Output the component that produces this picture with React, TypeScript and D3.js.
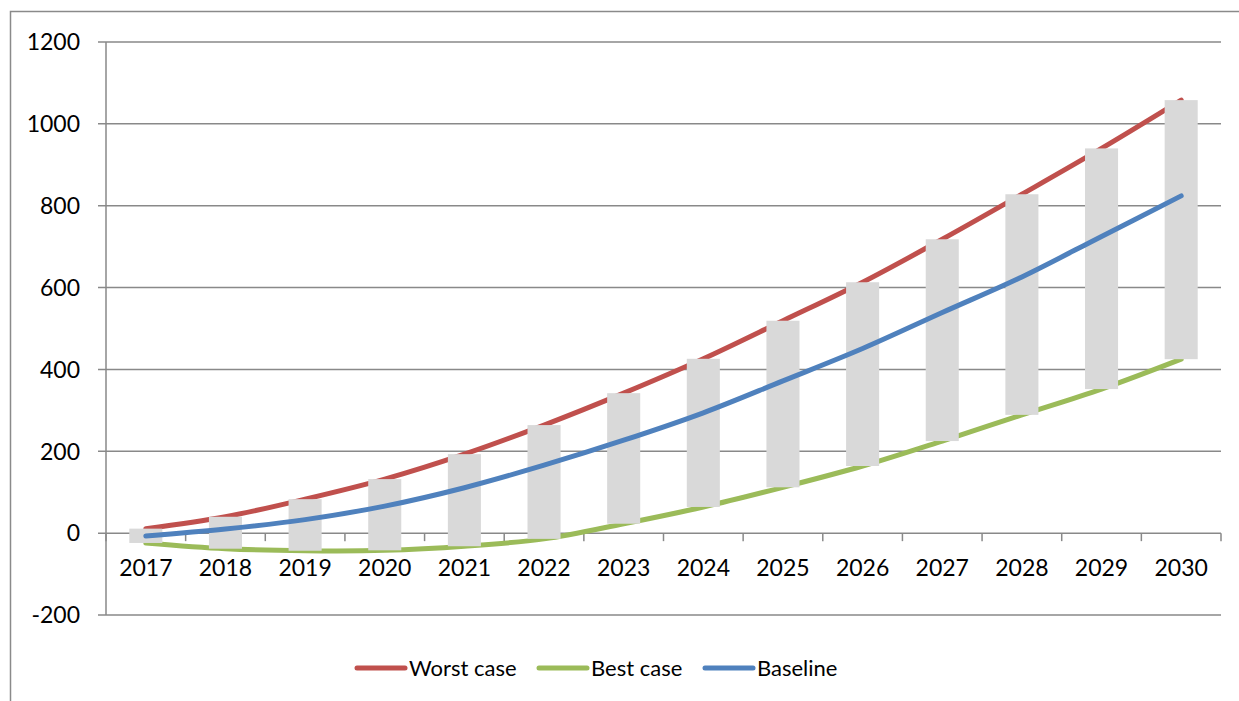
import React from "react";
import * as d3 from "d3";

const years = ["2017","2018","2019","2020","2021","2022","2023","2024","2025","2026","2027","2028","2029","2030"];
const worstCase = [11, 40, 83, 132, 193, 264, 342, 426, 519, 613, 718, 828, 940, 1058];
const bestCase = [-24, -38, -43, -42, -32, -14, 23, 64, 112, 164, 225, 289, 352, 425];
const baseline = [-7, 10, 33, 66, 111, 166, 227, 294, 372, 451, 539, 626, 725, 824];
const yTicks = [-200, 0, 200, 400, 600, 800, 1000, 1200];

const legendItems = [
  { label: "Worst case", color: "#C0504D", x: 357 },
  { label: "Best case", color: "#9BBB59", x: 539 },
  { label: "Baseline", color: "#4F81BD", x: 705 },
];

const W = 1239, H = 701;
const left = 106, right = 1221, top = 42, bottom = 615;
const FONT = "Lato, 'Open Sans', sans-serif";
const GRID = "#898989";

export default function App() {
  const x = d3.scalePoint<string>().domain(years).range([left, right]).padding(0.5);
  const step = x.step();
  const barW = step * 0.415;
  const y = d3.scaleLinear().domain([-200, 1200]).range([bottom, top]);
  const line = d3
    .line<number>()
    .x((_, i) => x(years[i]) as number)
    .y((d) => y(d))
    .curve(d3.curveCatmullRom.alpha(0.5));
  const y0 = y(0);

  return (
    <svg width={W} height={H} style={{ position: "absolute", left: 0, top: 0, display: "block" }}>
      <rect x={0} y={0} width={W} height={H} fill="#fff" />
      {/* outer chart border */}
      <path d={`M10.5,${H + 2} V11.5 H${W + 2}`} fill="none" stroke="#8a8a8a" strokeWidth={1.5} />
      {/* gridlines */}
      {yTicks.map((t) => (
        <line key={t} x1={98} x2={right} y1={y(t)} y2={y(t)} stroke={GRID} strokeWidth={1.5} />
      ))}
      {/* y axis */}
      <line x1={left} x2={left} y1={top} y2={bottom} stroke={GRID} strokeWidth={1.5} />
      {yTicks.map((t) => (
        <text key={t} x={80} y={y(t)} dy="0.36em" textAnchor="end" fontFamily={FONT} fontSize={23} fill="#000">
          {t}
        </text>
      ))}
      {/* x axis ticks at category boundaries */}
      {d3.range(years.length + 1).map((k) => (
        <line key={k} x1={left + k * step} x2={left + k * step} y1={y0} y2={y0 + 8} stroke={GRID} strokeWidth={1.5} />
      ))}
      {years.map((yr) => (
        <text key={yr} x={x(yr)} y={568} dy="0.36em" textAnchor="middle" fontFamily={FONT} fontSize={23} fill="#000">
          {yr}
        </text>
      ))}
      {/* red and green lines under bars */}
      <path d={line(worstCase) || ""} fill="none" stroke="#C0504D" strokeWidth={5} strokeLinecap="round" />
      <path d={line(bestCase) || ""} fill="none" stroke="#9BBB59" strokeWidth={5} strokeLinecap="round" />
      {/* floating range bars */}
      {years.map((yr, i) => {
        const t = y(worstCase[i]);
        const b = y(bestCase[i]);
        return <rect key={yr} x={(x(yr) as number) - barW / 2} y={t} width={barW} height={b - t} fill="#D9D9D9" />;
      })}
      {/* baseline on top */}
      <path d={line(baseline) || ""} fill="none" stroke="#4F81BD" strokeWidth={5} strokeLinecap="round" />
      {/* legend */}
      {legendItems.map((it) => (
        <g key={it.label}>
          <line x1={it.x} x2={it.x + 48} y1={668} y2={668} stroke={it.color} strokeWidth={5} strokeLinecap="round" />
          <text x={it.x + 52} y={668} dy="0.36em" fontFamily={FONT} fontSize={22} fill="#000">
            {it.label}
          </text>
        </g>
      ))}
    </svg>
  );
}
